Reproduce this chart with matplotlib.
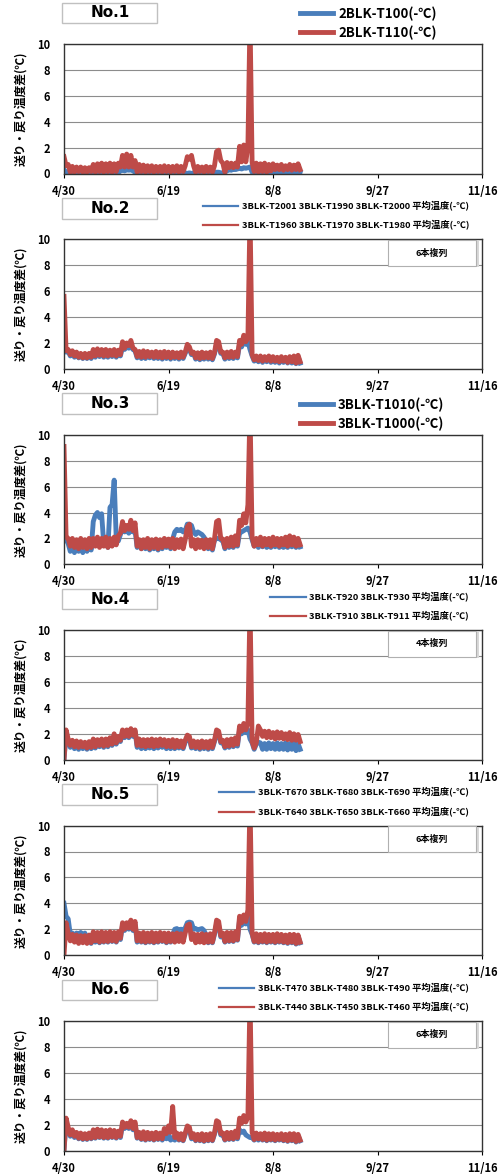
import matplotlib
matplotlib.use("Agg")
import matplotlib.pyplot as plt
from matplotlib.patches import Rectangle
from matplotlib.lines import Line2D
import numpy as np

plt.rcParams['font.family'] = ['Noto Sans CJK JP', 'DejaVu Sans']

# x axis: days since 4/30
tick_days = [0, 50, 100, 150, 200]
tick_labels = ["4/30", "6/19", "8/8", "9/27", "11/16"]
y_ticks = [0, 2, 4, 6, 8, 10]

panel_names = ["No.1", "No.2", "No.3", "No.4", "No.5", "No.6"]
note_labels = [None, "6本複列", None, "4本複列", "6本複列", "6本複列"]

blue_labels = [
    "2BLK-T100(-℃)",
    "3BLK-T2001 3BLK-T1990 3BLK-T2000 平均温度(-℃)",
    "3BLK-T1010(-℃)",
    "3BLK-T920 3BLK-T930 平均温度(-℃)",
    "3BLK-T670 3BLK-T680 3BLK-T690 平均温度(-℃)",
    "3BLK-T470 3BLK-T480 3BLK-T490 平均温度(-℃)",
]
red_labels = [
    "2BLK-T110(-℃)",
    "3BLK-T1960 3BLK-T1970 3BLK-T1980 平均温度(-℃)",
    "3BLK-T1000(-℃)",
    "3BLK-T910 3BLK-T911 平均温度(-℃)",
    "3BLK-T640 3BLK-T650 3BLK-T660 平均温度(-℃)",
    "3BLK-T440 3BLK-T450 3BLK-T460 平均温度(-℃)",
]

# daily readings, 4/30 .. 8/21
p1_red = [1.3, 0.6, 0.7, 0.1, 0.55, 0.1, 0.5, 0.15, 0.5, 0.1,
          0.45, 0.1, 0.45, 0.15, 0.7, 0.1, 0.75, 0.15, 0.8, 0.1,
          0.75, 0.15, 0.8, 0.1, 0.75, 0.15, 0.8, 0.5, 1.4, 0.5,
          1.5, 0.5, 1.4, 0.5, 1.0, 0.1, 0.7, 0.15, 0.65, 0.1,
          0.6, 0.15, 0.6, 0.1, 0.55, 0.15, 0.55, 0.1, 0.6, 0.15,
          0.55, 0.1, 0.55, 0.15, 0.6, 0.1, 0.55, 0.15, 0.6, 1.3,
          1.1, 1.4, 0.6, 0.1, 0.55, 0.15, 0.5, 0.1, 0.55, 0.15,
          0.5, 0.1, 0.6, 1.7, 1.8, 1.0, 0.8, 0.1, 0.85, 0.45,
          0.8, 0.45, 0.8, 0.5, 2.1, 0.9, 2.2, 0.9, 2.1, 12.0,
          0.85, 0.15, 0.8, 0.1, 0.75, 0.15, 0.8, 0.1, 0.7, 0.2,
          0.75, 0.3, 0.65, 0.3, 0.7, 0.25, 0.6, 0.3, 0.7, 0.25,
          0.65, 0.3, 0.75, 0.3]
p1_blue = [0.3, 0.1, 0.05, 0.0, 0.05, 0.0, 0.05, 0.0, 0.05, 0.0,
           0.05, 0.0, 0.05, 0.0, 0.05, 0.0, 0.05, 0.0, 0.05, 0.0,
           0.05, 0.0, 0.05, 0.0, 0.05, 0.0, 0.05, 0.2, 0.3, 0.2,
           0.3, 0.25, 0.3, 0.2, 0.1, 0.0, 0.05, 0.0, 0.05, 0.0,
           0.05, 0.0, 0.05, 0.0, 0.05, 0.0, 0.05, 0.0, 0.05, 0.0,
           0.05, 0.0, 0.05, 0.0, 0.05, 0.0, 0.05, 0.0, 0.05, 0.0,
           0.05, 0.0, 0.05, 0.0, 0.05, 0.0, 0.05, 0.0, 0.05, 0.0,
           0.05, 0.0, 0.05, 0.1, 0.1, 0.05, 0.05, 0.1, 0.2, 0.3,
           0.25, 0.35, 0.3, 0.35, 0.4, 0.35, 0.45, 0.4, 0.45, 0.5,
           0.1, 0.05, 0.1, 0.05, 0.1, 0.05, 0.1, 0.05, 0.1, 0.05,
           0.15, 0.1, 0.15, 0.1, 0.15, 0.1, 0.15, 0.1, 0.15, 0.1,
           0.15, 0.1, 0.15, 0.1]

p2_red = [5.6, 1.4, 1.5, 1.1, 1.4, 1.0, 1.3, 0.9, 1.2, 0.85,
          1.2, 0.85, 1.2, 0.9, 1.5, 1.0, 1.55, 1.05, 1.5, 1.0,
          1.5, 1.0, 1.45, 1.05, 1.5, 1.0, 1.45, 1.1, 2.1, 1.6,
          2.0, 1.8, 2.2, 1.6, 1.5, 0.95, 1.35, 0.9, 1.4, 0.9,
          1.35, 0.95, 1.3, 0.9, 1.35, 0.9, 1.3, 0.85, 1.35, 0.9,
          1.3, 0.85, 1.3, 0.9, 1.25, 0.85, 1.3, 0.9, 1.3, 1.9,
          1.7, 1.2, 1.3, 0.85, 1.25, 0.8, 1.3, 0.85, 1.25, 0.85,
          1.3, 0.8, 1.25, 2.2, 2.1, 1.3, 1.3, 0.85, 1.3, 0.9,
          1.35, 0.9, 1.3, 0.95, 2.2, 1.9, 2.6, 2.1, 2.4, 12.0,
          1.1, 0.7, 1.0, 0.65, 1.0, 0.6, 0.95, 0.65, 1.0, 0.6,
          0.95, 0.6, 0.9, 0.55, 0.95, 0.6, 0.9, 0.5, 0.95, 0.55,
          1.0, 0.45, 1.05, 0.55]
p2_blue = [1.4, 1.3, 1.35, 1.0, 1.3, 0.9, 1.2, 0.85, 1.1, 0.8,
           1.1, 0.8, 1.1, 0.8, 1.35, 0.9, 1.4, 0.95, 1.35, 0.9,
           1.35, 0.9, 1.3, 0.95, 1.35, 0.9, 1.3, 1.0, 1.7, 1.5,
           1.7, 1.6, 1.75, 1.5, 1.4, 0.85, 1.25, 0.8, 1.3, 0.8,
           1.25, 0.85, 1.2, 0.8, 1.25, 0.8, 1.2, 0.75, 1.25, 0.8,
           1.2, 0.75, 1.2, 0.8, 1.15, 0.75, 1.2, 0.8, 1.2, 1.6,
           1.5, 1.1, 1.2, 0.75, 1.15, 0.7, 1.2, 0.75, 1.15, 0.75,
           1.2, 0.7, 1.15, 1.9, 1.8, 1.2, 1.2, 0.75, 1.2, 0.8,
           1.25, 0.8, 1.2, 0.85, 1.9, 1.7, 2.2, 1.9, 2.1, 1.5,
           1.0, 0.6, 0.9, 0.55, 0.9, 0.5, 0.85, 0.55, 0.9, 0.5,
           0.85, 0.5, 0.8, 0.45, 0.85, 0.5, 0.8, 0.45, 0.85, 0.45,
           0.9, 0.4, 0.95, 0.45]

p3_red = [9.1, 2.1, 2.0, 1.4, 2.0, 1.3, 1.9, 1.2, 2.0, 1.3,
          1.9, 1.2, 2.0, 1.3, 2.0, 1.4, 2.1, 1.3, 2.0, 1.4,
          2.1, 1.3, 2.0, 1.4, 2.1, 1.5, 2.2, 2.4, 3.3, 2.6,
          3.0, 2.7, 3.4, 2.6, 3.2, 1.4, 1.9, 1.2, 1.9, 1.3,
          2.0, 1.2, 1.9, 1.3, 1.95, 1.2, 1.9, 1.3, 2.0, 1.4,
          1.95, 1.3, 2.0, 1.2, 1.9, 1.3, 1.95, 1.2, 1.9, 2.9,
          3.1, 1.4, 1.9, 1.2, 1.9, 1.3, 1.85, 1.2, 1.9, 1.3,
          1.9, 1.2, 1.95, 3.3, 3.4, 2.0, 1.95, 1.3, 2.0, 1.4,
          2.1, 1.4, 2.2, 1.5, 3.4, 3.0, 3.9, 3.2, 4.6, 12.0,
          2.1, 1.4, 2.0, 1.5, 2.1, 1.4, 2.0, 1.5, 2.0, 1.4,
          2.1, 1.5, 2.0, 1.4, 2.0, 1.5, 2.1, 1.4, 2.2, 1.5,
          2.1, 1.4, 2.0, 1.5]
p3_blue = [2.0, 1.9, 1.6, 1.0, 1.5, 0.9, 1.4, 1.0, 1.5, 0.9,
           1.5, 1.0, 1.6, 1.1, 3.3, 3.8, 4.0, 3.6, 3.9, 1.6,
           1.7, 1.3, 4.4, 4.6, 6.5, 2.0, 1.8, 2.3, 2.8, 2.5,
           2.7, 2.4, 2.8, 2.5, 2.6, 1.3, 1.8, 1.2, 1.8, 1.2,
           1.9, 1.1, 1.8, 1.2, 1.85, 1.1, 1.8, 1.2, 1.9, 1.3,
           1.9, 1.2, 1.95, 2.5, 2.7, 2.6, 2.7, 2.5, 2.6, 3.1,
           3.1, 3.0, 2.5, 2.3, 2.5, 2.4, 2.3, 2.1, 1.8, 1.2,
           1.8, 1.1, 1.85, 2.0, 2.0, 1.9, 1.8, 1.2, 1.9, 1.3,
           1.95, 1.3, 2.0, 1.4, 2.4, 2.5, 2.6, 2.7, 2.8, 2.5,
           1.9, 1.4, 1.8, 1.3, 1.9, 1.35, 1.8, 1.3, 1.85, 1.3,
           1.9, 1.35, 1.8, 1.3, 1.85, 1.3, 1.8, 1.3, 1.9, 1.35,
           1.9, 1.3, 1.85, 1.35]

p4_red = [0.0, 2.3, 1.6, 1.1, 1.5, 1.0, 1.45, 0.95, 1.4, 1.0,
          1.35, 0.9, 1.4, 0.95, 1.6, 1.0, 1.55, 1.1, 1.6, 1.05,
          1.6, 1.1, 1.7, 1.2, 2.0, 1.3, 1.8, 1.5, 2.3, 1.8,
          2.3, 1.8, 2.4, 1.9, 2.3, 1.1, 1.6, 1.05, 1.55, 1.0,
          1.55, 1.05, 1.6, 1.0, 1.55, 1.05, 1.6, 1.1, 1.55, 1.0,
          1.5, 1.0, 1.55, 0.95, 1.5, 1.0, 1.45, 0.95, 1.5, 1.9,
          1.8, 1.0, 1.45, 0.95, 1.4, 0.9, 1.45, 0.95, 1.4, 0.9,
          1.45, 0.95, 1.5, 2.3, 2.2, 1.4, 1.5, 1.0, 1.55, 1.05,
          1.6, 1.1, 1.7, 1.2, 2.6, 2.2, 2.8, 2.3, 2.9, 12.0,
          1.4, 0.9, 1.3, 2.6, 2.3, 1.8, 2.2, 1.7, 2.2, 1.7,
          2.1, 1.6, 2.15, 1.65, 2.1, 1.6, 2.0, 1.55, 2.1, 1.5,
          2.0, 1.5, 1.95, 1.4]
p4_blue = [0.0, 2.0, 1.5, 0.95, 1.4, 0.85, 1.35, 0.8, 1.3, 0.85,
           1.25, 0.8, 1.3, 0.85, 1.5, 0.9, 1.45, 1.0, 1.5, 0.95,
           1.5, 1.0, 1.6, 1.1, 1.9, 1.2, 1.7, 1.4, 2.2, 1.7,
           2.2, 1.7, 2.3, 1.8, 2.2, 0.95, 1.4, 0.85, 1.3, 0.85,
           1.35, 0.9, 1.4, 0.85, 1.35, 0.9, 1.4, 0.95, 1.35, 0.85,
           1.35, 0.85, 1.4, 0.85, 1.35, 0.9, 1.3, 0.85, 1.35, 1.7,
           1.6, 0.9, 1.3, 0.85, 1.3, 0.8, 1.35, 0.85, 1.3, 0.8,
           1.35, 0.85, 1.4, 2.1, 2.0, 1.3, 1.35, 0.9, 1.4, 0.95,
           1.45, 1.0, 1.5, 1.05, 2.3, 2.0, 2.4, 2.1, 2.3, 1.6,
           1.3, 0.8, 1.2, 1.35, 1.3, 0.8, 1.25, 0.8, 1.3, 0.85,
           1.25, 0.8, 1.3, 0.8, 1.25, 0.8, 1.3, 0.75, 1.25, 0.8,
           1.3, 0.7, 1.25, 0.8]

p5_red = [0.0, 2.5, 1.7, 1.1, 1.6, 1.0, 1.55, 0.9, 1.5, 0.95,
          1.5, 0.9, 1.55, 0.95, 1.8, 1.1, 1.75, 1.0, 1.8, 1.05,
          1.75, 1.05, 1.8, 1.1, 1.75, 1.05, 1.8, 1.3, 2.5, 2.0,
          2.5, 2.1, 2.7, 2.0, 2.6, 1.1, 1.7, 1.05, 1.75, 1.0,
          1.7, 1.05, 1.75, 1.0, 1.7, 1.05, 1.75, 1.1, 1.7, 1.0,
          1.7, 1.05, 1.65, 1.0, 1.7, 1.05, 1.65, 1.0, 1.7, 2.3,
          2.4, 1.2, 1.65, 0.95, 1.6, 1.0, 1.65, 0.95, 1.6, 1.0,
          1.65, 1.0, 1.7, 2.7, 2.6, 1.5, 1.7, 1.05, 1.75, 1.1,
          1.75, 1.1, 1.8, 1.2, 3.0, 2.5, 3.1, 2.6, 3.5, 12.0,
          1.7, 1.05, 1.65, 1.0, 1.6, 1.05, 1.65, 1.0, 1.6, 1.05,
          1.6, 1.0, 1.65, 1.05, 1.6, 1.0, 1.55, 0.95, 1.6, 1.0,
          1.6, 0.9, 1.55, 1.0]
p5_blue = [4.0, 3.0, 2.8, 1.6, 1.7, 1.5, 1.7, 1.6, 1.75, 1.5,
           1.7, 1.2, 1.5, 0.9, 1.7, 1.0, 1.65, 0.95, 1.7, 1.0,
           1.65, 1.0, 1.7, 1.05, 1.65, 1.0, 1.7, 1.2, 2.3, 1.9,
           2.3, 2.0, 2.5, 1.9, 2.4, 1.0, 1.6, 1.0, 1.65, 0.95,
           1.6, 1.0, 1.65, 0.95, 1.6, 1.0, 1.65, 1.05, 1.6, 0.95,
           1.6, 1.0, 1.6, 2.0, 2.05, 1.9, 2.0, 1.95, 2.1, 2.5,
           2.55, 2.5, 2.0, 2.05, 1.95, 2.0, 2.05, 1.9, 1.55, 0.95,
           1.6, 0.95, 1.6, 2.4, 2.3, 1.4, 1.6, 1.0, 1.65, 1.05,
           1.65, 1.05, 1.7, 1.15, 2.7, 2.3, 2.8, 2.4, 3.0, 2.0,
           1.6, 1.0, 1.55, 0.95, 1.5, 1.0, 1.55, 0.95, 1.5, 1.0,
           1.5, 0.95, 1.55, 1.0, 1.5, 0.95, 1.45, 0.9, 1.5, 0.95,
           1.5, 0.85, 1.45, 0.95]

p6_red = [0.0, 2.5, 1.8, 1.2, 1.6, 1.1, 1.4, 0.95, 1.35, 0.9,
          1.3, 0.9, 1.35, 0.95, 1.6, 1.0, 1.65, 1.05, 1.6, 1.0,
          1.55, 1.0, 1.6, 1.05, 1.55, 1.0, 1.5, 1.1, 2.2, 1.8,
          2.1, 1.8, 2.3, 1.7, 2.2, 1.0, 1.4, 0.9, 1.45, 0.85,
          1.4, 0.9, 1.35, 0.85, 1.4, 0.9, 1.35, 0.9, 1.7, 1.3,
          1.9, 1.4, 3.4, 1.0, 1.35, 0.85, 1.3, 0.8, 1.35, 1.9,
          1.8, 1.0, 1.3, 0.8, 1.25, 0.8, 1.3, 0.75, 1.25, 0.8,
          1.3, 0.8, 1.35, 2.3, 2.2, 1.3, 1.35, 0.85, 1.4, 0.9,
          1.4, 0.9, 1.5, 1.0, 2.5, 2.1, 2.7, 2.2, 2.6, 12.0,
          1.4, 0.85, 1.35, 0.9, 1.3, 0.85, 1.35, 0.8, 1.3, 0.85,
          1.3, 0.8, 1.25, 0.85, 1.3, 0.8, 1.25, 0.75, 1.3, 0.8,
          1.3, 0.7, 1.25, 0.8]
p6_blue = [0.0, 2.2, 1.6, 1.1, 1.5, 1.0, 1.3, 0.9, 1.25, 0.85,
           1.2, 0.85, 1.25, 0.9, 1.5, 0.95, 1.55, 1.0, 1.5, 0.95,
           1.45, 0.95, 1.5, 1.0, 1.45, 0.95, 1.4, 1.0, 2.0, 1.7,
           2.0, 1.7, 2.1, 1.6, 2.0, 0.95, 1.3, 0.85, 1.35, 0.8,
           1.3, 0.85, 1.25, 0.8, 1.3, 0.85, 1.25, 0.8, 1.3, 0.9,
           1.2, 0.8, 1.0, 0.8, 1.25, 0.8, 1.2, 0.75, 1.25, 1.7,
           1.6, 0.9, 1.2, 0.75, 1.15, 0.75, 1.2, 0.7, 1.15, 0.75,
           1.2, 0.75, 1.25, 2.0, 1.9, 1.2, 1.25, 0.8, 1.3, 0.85,
           1.3, 0.85, 1.35, 0.9, 1.6, 1.4, 1.5, 1.2, 1.1, 1.0,
           1.0, 0.8, 1.2, 0.8, 1.2, 0.8, 1.25, 0.75, 1.2, 0.8,
           1.2, 0.75, 1.15, 0.8, 1.2, 0.75, 1.15, 0.7, 1.2, 0.75,
           1.2, 0.65, 1.15, 0.75]

reds = [p1_red, p2_red, p3_red, p4_red, p5_red, p6_red]
blues = [p1_blue, p2_blue, p3_blue, p4_blue, p5_blue, p6_blue]

BLUE = "#4a7ebb"
RED = "#be4b48"
ylab = "送り・戻り温度差(℃)"

fig = plt.figure(figsize=(5.0, 11.76), dpi=100)
W, H = 500.0, 1176.0

for i in range(6):
    top = 44 + 195.4 * i
    ax = fig.add_axes([64 / W, (H - top - 129.5) / H, 418 / W, 129.5 / H])
    days = np.arange(len(reds[i]))
    ax.plot(days, blues[i], color=BLUE, lw=3.5, solid_joinstyle='round')
    ax.plot(days, reds[i], color=RED, lw=3.5, solid_joinstyle='round')

    ax.set_xlim(0, 200)
    ax.set_ylim(0, 10)
    ax.set_xticks(tick_days)
    ax.set_xticklabels(tick_labels, fontsize=8, fontweight='bold')
    ax.set_yticks(y_ticks)
    ax.set_yticklabels([str(v) for v in y_ticks], fontsize=8, fontweight='bold')
    ax.tick_params(axis='x', direction='out', length=3, width=0.8, pad=5)
    ax.tick_params(axis='y', length=0, pad=10)
    ax.grid(axis='y', color='#8c8c8c', lw=0.8)
    ax.set_axisbelow(True)
    for s in ax.spines.values():
        s.set_color('#333333')
        s.set_linewidth(1.0)
    ax.set_ylabel(ylab, fontsize=8.5, fontweight='bold', labelpad=7)

    # panel name box
    ax.add_patch(Rectangle((-0.005, 1.16), 0.227, 0.16, transform=ax.transAxes,
                           facecolor='white', edgecolor='#c0c0c0', lw=1.0, clip_on=False))
    ax.text(0.11, 1.24, panel_names[i], transform=ax.transAxes, ha='center', va='center',
            fontsize=11, fontweight='bold', family=['DejaVu Sans'])

    # note box
    if note_labels[i]:
        ax.add_patch(Rectangle((0.782, 0.785), 0.21, 0.2, transform=ax.transAxes,
                               facecolor='#d8d8d8', edgecolor='none', zorder=4))
        ax.add_patch(Rectangle((0.775, 0.795), 0.21, 0.2, transform=ax.transAxes,
                               facecolor='white', edgecolor='#b0b0b0', lw=0.8, zorder=5))
        ax.text(0.88, 0.895, note_labels[i], transform=ax.transAxes, ha='center', va='center',
                fontsize=6.5, fontweight='bold', zorder=6)

    # legend
    big = i in (0, 2)
    handles = [Line2D([], [], color=BLUE, lw=3.5 if big else 1.6),
               Line2D([], [], color=RED, lw=3.5 if big else 1.6)]
    if big:
        ax.legend(handles, [blue_labels[i], red_labels[i]], loc='upper left',
                  bbox_to_anchor=(0.55, 1.34), frameon=False, handlelength=2.5,
                  handletextpad=0.35, labelspacing=0.35, borderpad=0,
                  prop={'size': 9.5, 'weight': 'bold'})
    else:
        ax.legend(handles, [blue_labels[i], red_labels[i]], loc='upper right',
                  bbox_to_anchor=(0.98, 1.33), frameon=False, handlelength=3.8,
                  handletextpad=0.4, labelspacing=1.0, borderpad=0,
                  prop={'size': 6.7, 'weight': 'bold'})

fig.savefig("out.png", dpi=100, facecolor='white')
